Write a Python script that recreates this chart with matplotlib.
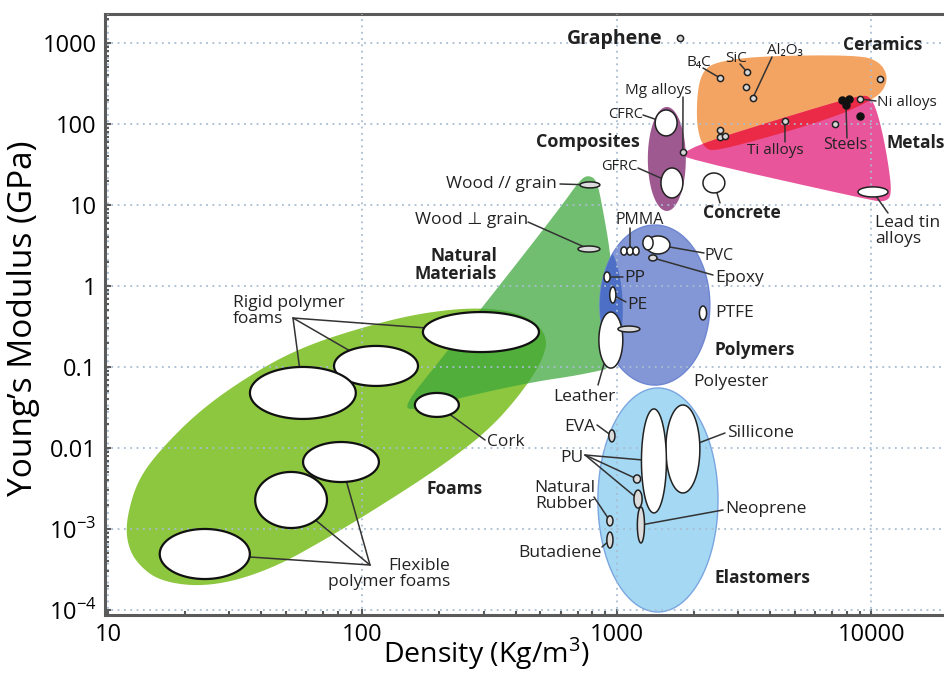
import numpy as np
import matplotlib
matplotlib.use("Agg")
import matplotlib.pyplot as plt

plt.rcParams['font.family'] = ['Open Sans', 'DejaVu Sans']
plt.rcParams['mathtext.fontset'] = 'custom'
plt.rcParams['mathtext.rm'] = 'Open Sans'

# ---- material field outlines (density kg/m3, modulus GPa) ----
foams_rho = [11.9, 13.1, 16.0, 23.0, 36.1, 56.8, 97.7, 168, 290, 435, 536, 512,
             416, 308, 202, 128, 76.6, 43.4, 25.2, 16.0, 12.8, 11.8]
foams_E = [1.49e-3, 4.03e-3, 9.44e-3, 0.0294, 0.0796, 0.172, 0.303, 0.464, 0.551,
           0.451, 0.248, 0.122, 0.0451, 0.0158, 5.82e-3, 2.28e-3, 8.43e-4,
           3.12e-4, 1.92e-4, 2.22e-4, 3.92e-4, 7.31e-4]

natural_rho = [716, 769, 834, 881, 938, 982, 1027, 716, 468, 258, 156, 146, 202, 347, 597]
natural_E = [20.4, 23.4, 20.4, 8.67, 2.78, 0.671, 0.103, 0.0796, 0.0653, 0.0438,
             0.0286, 0.034, 0.122, 1.03, 9.18]

ceramics_rho = [2061, 2061, 2158, 2427, 3646, 9020, 10790, 11600, 11200, 10040,
                7520, 4490, 2540, 2218]
ceramics_E = [84.3, 228, 438, 582, 692, 711, 582, 392, 263, 198, 129, 77.4, 47.7, 47.7]

metals_rho = [1815, 2177, 4490, 9020, 10000, 10780, 11600, 12050, 11300, 9860, 1815]
metals_E = [43.9, 58.2, 118.6, 228, 215, 112, 36, 13.3, 10.9, 11.5, 38.0]

# elliptical fields: centre and half spread in decades
polymers = (1409, 0.582, 0.216, 0.988)
thermoplastics = (841, 0.506, 0.098, 0.864)
elastomers = (1449, 2.28e-3, 0.236, 1.383)
composites = (1570, 37.0, 0.0747, 0.642)

# foam cells
foam_rho = [292, 113, 58.3, 196, 82.3, 52.4, 24.0]
foam_E = [0.270, 0.103, 0.0478, 0.034, 6.71e-3, 2.28e-3, 4.91e-4]
foam_dx = [0.228, 0.165, 0.208, 0.0864, 0.149, 0.141, 0.177]
foam_dy = [0.247, 0.247, 0.321, 0.148, 0.247, 0.346, 0.309]

# individual materials
mat_names = ['wood_par', 'wood_perp', 'leather', 'leather2', 'pmma1', 'pmma2', 'pmma3',
             'pvc', 'pvc2', 'epoxy', 'pp', 'pe', 'ptfe', 'eva', 'silicone', 'pu',
             'pu2', 'pu3', 'neoprene', 'rubber', 'butadiene', 'cfrc', 'gfrc',
             'concrete', 'leadtin']
mat_rho = [783, 776, 946, 1114, 1065, 1125, 1188, 1449, 1324, 1384, 914, 963, 2178,
           955, 1815, 1397, 1199, 1210, 1242, 938, 938, 1560, 1644, 2404, 10140]
mat_E = [17.7, 2.86, 0.215, 0.294, 2.70, 2.70, 2.70, 3.21, 3.40, 2.22, 1.29, 0.774,
         0.464, 0.0141, 9.72e-3, 6.92e-3, 4.14e-3, 2.34e-3, 1.12e-3, 1.26e-3, 7.3e-4,
         103, 18.7, 18.7, 14.5]
mat_dx = [0.039, 0.043, 0.047, 0.043, 0.012, 0.012, 0.012, 0.047, 0.02, 0.016, 0.012,
          0.012, 0.014, 0.012, 0.0668, 0.049, 0.014, 0.016, 0.014, 0.012, 0.012,
          0.043, 0.043, 0.043, 0.059]
mat_dy = [0.037, 0.037, 0.346, 0.037, 0.05, 0.05, 0.05, 0.111, 0.086, 0.037, 0.062,
          0.099, 0.086, 0.074, 0.543, 0.642, 0.05, 0.111, 0.222, 0.062, 0.099,
          0.16, 0.185, 0.123, 0.062]
grey_cells = ['wood_par', 'wood_perp', 'leather2', 'epoxy', 'eva', 'pu2', 'pu3',
              'neoprene', 'rubber', 'butadiene']

# small dots
dot_rho = [1770, 1815, 2540, 3244, 3213, 3420, 10800, 2540, 2540, 2650, 4570, 7200, 9020]
dot_E = [1150, 45, 370, 438, 286, 210, 359, 84.3, 69, 71, 109, 100, 204]
steel_rho = [7660, 8170, 7940, 9020]
steel_E = [198, 204, 172, 126]

x_ticks = [10, 100, 1000, 10000]
y_ticks = [1e-4, 1e-3, 0.01, 0.1, 1, 10, 100, 1000]
y_ticklabels = ['10$^{-4}$', '10$^{-3}$', '0.01', '0.1', '1', '10', '100', '1000']


def ell(rho, E, dx, dy, n=160):
    t = np.linspace(0, 2 * np.pi, n)
    return 10 ** (np.log10(rho) + dx * np.cos(t)), 10 ** (np.log10(E) + dy * np.sin(t))


def smooth(rho, E, n=3):
    # Chaikin corner cutting in log space
    p = np.log10(np.column_stack([rho, E]))
    for _ in range(n):
        q = np.roll(p, -1, axis=0)
        new = np.empty((2 * len(p), 2))
        new[0::2] = 0.75 * p + 0.25 * q
        new[1::2] = 0.25 * p + 0.75 * q
        p = new
    return 10 ** p[:, 0], 10 ** p[:, 1]


W, H = 944, 674
fig = plt.figure(figsize=(W / 100, H / 100), dpi=100)
ax = fig.add_axes([105 / W, 1 - 615 / H, (W - 105) / W, (615 - 14) / H])
ax.set_xscale('log')
ax.set_yscale('log')
ax.set_xlim(9.73, 19280)
ax.set_ylim(8.67e-5, 2280)

# fields
ax.fill(*smooth(foams_rho, foams_E, 3), fc='#8dc63f', ec='none', zorder=1)
ax.fill(*smooth(natural_rho, natural_E, 2), fc='#3aa53a', alpha=0.72, ec='none', zorder=1.1)
cer = ax.fill(*smooth(ceramics_rho, ceramics_E, 3), fc='#f4a462', ec='none', zorder=1)[0]
ax.fill(*smooth(metals_rho, metals_E, 2), fc='#e9559b', ec='none', zorder=1.2)
red = ax.fill(*smooth(metals_rho, metals_E, 2), fc='#eb2a48', ec='none', zorder=1.3)[0]
red.set_clip_path(cer)
ax.fill(*ell(*composites), fc='#9e5a90', ec='none', zorder=1.2)
poly = ax.fill(*ell(*polymers), fc='#8397d6', ec='#6f86d2', lw=1, zorder=1.4)[0]
crescent = ax.fill(*ell(*thermoplastics), fc='#4d6fc6', ec='none', zorder=1.5)[0]
crescent.set_clip_path(poly)
ax.fill(*ell(*elastomers), fc='#a5d8f3', ec='#7aa6e0', lw=1, zorder=1.4)

# cells
for r, e, dx, dy in zip(foam_rho, foam_E, foam_dx, foam_dy):
    ax.fill(*ell(r, e, dx, dy), fc='white', ec='#111111', lw=1.6, zorder=4)
for nm, r, e, dx, dy in zip(mat_names, mat_rho, mat_E, mat_dx, mat_dy):
    fc = '#dcdcdc' if nm in grey_cells else 'white'
    ax.fill(*ell(r, e, dx, dy), fc=fc, ec='#222222', lw=1.1, zorder=4)
ax.scatter(dot_rho, dot_E, s=20, c='#d8d8d8', edgecolors='#222222', linewidths=1.1, zorder=4.5)
ax.scatter(steel_rho, steel_E, s=26, c='#111111', edgecolors='#111111', zorder=4.5)

# axes styling
ax.grid(True, which='major', color='#a8bcd2', lw=1.3, ls=(0, (1, 2.5)))
ax.set_axisbelow(False)
for s in ['left', 'bottom', 'top']:
    ax.spines[s].set_color('#5a5a5a')
    ax.spines[s].set_linewidth(2.2)
ax.spines['right'].set_visible(False)
ax.set_xticks(x_ticks)
ax.set_xticklabels([str(v) for v in x_ticks])
ax.set_yticks(y_ticks)
ax.set_yticklabels(y_ticklabels)
ax.tick_params(which='major', direction='in', length=4, width=1.5, color='#5a5a5a',
               labelsize=17, pad=6)
ax.tick_params(which='minor', direction='in', length=3, width=1.5, color='#5a5a5a')
ax.set_xlabel('Density (Kg/m$^3$)', fontsize=20.5, va='top')
ax.xaxis.set_label_coords(0.455, -0.034)
ax.set_ylabel('Young\u2019s Modulus (GPa)', fontsize=24)
ax.yaxis.set_label_coords(-0.077, 0.494)


def label(s, x, y, ha='left', bold=False, size=12.5):
    ax.annotate(s, xy=(x, H - y), xycoords='figure pixels', ha=ha, va='center',
                fontsize=size, fontweight='bold' if bold else 'normal', color='#222222',
                zorder=6, annotation_clip=False, linespacing=1.0)


def leader(x, y, rho, E):
    ax.annotate('', xy=(rho, E), xytext=(x, H - y), textcoords='figure pixels',
                arrowprops=dict(arrowstyle='-', color='#333333', lw=1.1,
                                shrinkA=0, shrinkB=0), zorder=3)


m = dict(zip(mat_names, zip(mat_rho, mat_E)))

label('Graphene', 663, 39, ha='right', bold=True, size=14)
label('Ceramics', 843, 45, bold=True)
label('Metals', 887, 143, bold=True)
label('Composites', 640, 142, ha='right', bold=True, size=13)
label('Concrete', 703, 213, bold=True)
label('Natural\nMaterials', 497, 265, ha='right', bold=True)
label('Polymers', 715, 350, bold=True)
label('Polyester', 693, 382)
label('Elastomers', 715, 578, bold=True)
label('Foams', 427, 489, bold=True)
label('Rigid polymer\nfoams', 233, 311)
label('Flexible\npolymer foams', 450, 574, ha='right')
label('Cork', 487, 442)
label('Wood // grain', 557, 184, ha='right')
label('Wood \u22a5 grain', 528, 220, ha='right')
label('Leather', 584, 397, ha='center')
label('EVA', 595, 427, ha='right')
label('PU', 583, 458, ha='right')
label('Natural\nRubber', 565, 496, ha='center')
label('Butadiene', 602, 553, ha='right')
label('PMMA', 640, 220, ha='center', size=11.5)
label('PVC', 705, 256, size=11.5)
label('Epoxy', 715, 278)
label('PP', 624, 278)
label('PE', 627, 305)
label('PTFE', 715, 313)
label('Sillicone', 727, 433)
label('Neoprene', 725, 509)
label('CFRC', 643, 115, ha='right', size=10.5)
label('GFRC', 637, 167, ha='right', size=10.5)
label('Mg alloys', 658, 90, ha='center', size=11)
label('B\u2084C', 699, 63, ha='center', size=11)
label('SiC', 736, 58, ha='center', size=11)
label('Al\u2082O\u2083', 785, 50, ha='center', size=11)
label('Ti alloys', 775, 150, ha='center', size=11)
label('Steels', 845, 145, ha='center', size=11.5)
label('Ni alloys', 877, 102, size=11)
label('Lead tin\nalloys', 875, 231)

leader(560, 184, *m['wood_par'])
leader(528, 222, *m['wood_perp'])
for i in range(3):
    leader(293, 318, foam_rho[i], foam_E[i])
for i in [4, 5, 6]:
    leader(370, 565, foam_rho[i], foam_E[i])
leader(485, 440, foam_rho[3], foam_E[3])
leader(598, 385, *m['leather'])
leader(597, 425, *m['eva'])
for k in ['pu', 'pu2', 'pu3']:
    leader(585, 455, *m[k])
leader(594, 497, *m['rubber'])
leader(602, 547, *m['butadiene'])
leader(723, 510, *m['neoprene'])
leader(725, 433, *m['silicone'])
leader(630, 228, *m['pmma2'])
leader(704, 253, *m['pvc'])
leader(713, 275, *m['epoxy'])
leader(623, 277, *m['pp'])
leader(626, 302, *m['pe'])
leader(643, 115, *m['cfrc'])
leader(638, 168, *m['gfrc'])
leader(683, 97, dot_rho[1], dot_E[1])
leader(720, 203, *m['concrete'])
leader(703, 68, dot_rho[2], dot_E[2])
leader(740, 64, dot_rho[3], dot_E[3])
leader(772, 57, dot_rho[5], dot_E[5])
leader(785, 142, dot_rho[10], dot_E[10])
leader(847, 138, steel_rho[2], steel_E[2])
leader(876, 101, dot_rho[12], dot_E[12])
leader(888, 213, *m['leadtin'])

fig.savefig('out.png', dpi=100)
